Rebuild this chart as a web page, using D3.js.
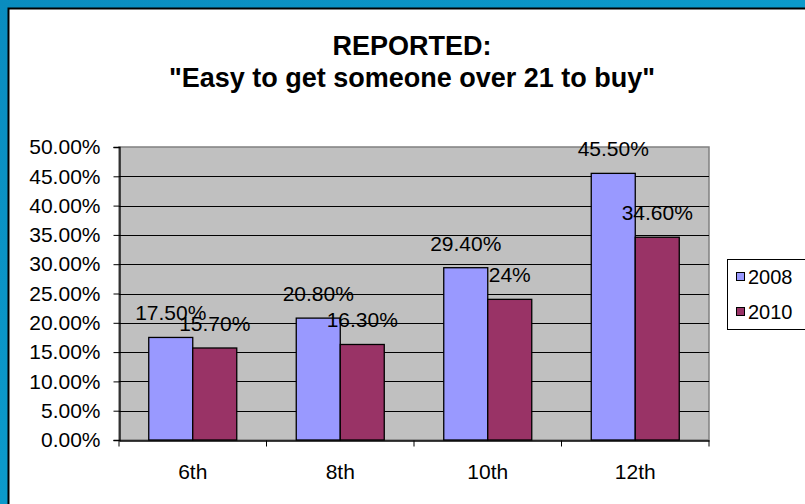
<!DOCTYPE html>
<html>
<head>
<meta charset="utf-8">
<script src="https://cdn.jsdelivr.net/npm/d3@7"></script>
<style>
  body { margin: 0; padding: 0; overflow: hidden; }
  svg { display: block; font-family: "Liberation Sans", Arial, sans-serif; }
</style>
</head>
<body>
<svg></svg>
<script>
let grades = ['6th', '8th', '10th', '12th']
let years = ['2008', '2010']
let values2008 = [17.5, 20.8, 29.4, 45.5]
let values2010 = [15.7, 16.3, 24, 34.6]
let labels2008 = ['17.50%', '20.80%', '29.40%', '45.50%']
let labels2010 = ['15.70%', '16.30%', '24%', '34.60%']
let yTicks = [0, 5, 10, 15, 20, 25, 30, 35, 40, 45, 50]
let colors = ['#9999ff', '#993366']

let width = 805
let height = 504

let plotLeft = 119
let plotRight = 709
let plotTop = 147
let plotBottom = 440

let svg = d3.select('svg')
    .attr('width', width)
    .attr('height', height)

let xScale
let yScale
let subScale

let drawFrame = () => {
    let grad = svg.append('defs')
        .append('linearGradient')
        .attr('id', 'bg')
        .attr('x1', '0').attr('y1', '0')
        .attr('x2', '1').attr('y2', '1')
    grad.append('stop').attr('offset', '0%').attr('stop-color', '#0a8cbf')
    grad.append('stop').attr('offset', '50%').attr('stop-color', '#0b9acb')
    grad.append('stop').attr('offset', '100%').attr('stop-color', '#0a86b8')

    svg.append('rect')
        .attr('width', width)
        .attr('height', height)
        .attr('fill', 'url(#bg)')

    svg.append('rect')
        .attr('x', 8.5)
        .attr('y', 8.5)
        .attr('width', width + 10)
        .attr('height', height + 10)
        .attr('fill', 'white')
        .attr('stroke', 'black')
        .attr('stroke-width', 2)
}

let generateScales = () => {
    xScale = d3.scaleBand()
        .domain(grades)
        .range([plotLeft, plotRight])
        .paddingInner(0)
        .paddingOuter(0)

    subScale = d3.scaleBand()
        .domain(years)
        .range([0, xScale.bandwidth()])
        .paddingInner(0)
        .paddingOuter(0.676)

    yScale = d3.scaleLinear()
        .domain([0, 50])
        .range([plotBottom, plotTop])
}

let drawPlotArea = () => {
    svg.append('rect')
        .attr('x', plotLeft)
        .attr('y', plotTop)
        .attr('width', plotRight - plotLeft)
        .attr('height', plotBottom - plotTop)
        .attr('fill', '#c0c0c0')
        .attr('stroke', '#808080')
        .attr('stroke-width', 1.5)

    svg.append('g')
        .selectAll('line')
        .data(yTicks.slice(1, -1))
        .enter()
        .append('line')
        .attr('x1', plotLeft)
        .attr('x2', plotRight)
        .attr('y1', (d) => Math.round(yScale(d)) + 0.5)
        .attr('y2', (d) => Math.round(yScale(d)) + 0.5)
        .attr('stroke', '#000')
        .attr('stroke-width', 1)
}

let drawBars = () => {
    let series = [values2008, values2010]
    let seriesLabels = [labels2008, labels2010]

    series.forEach((vals, s) => {
        svg.append('g')
            .selectAll('rect')
            .data(vals)
            .enter()
            .append('rect')
            .attr('x', (d, i) => xScale(grades[i]) + subScale(years[s]))
            .attr('y', (d) => yScale(d))
            .attr('width', subScale.bandwidth())
            .attr('height', (d) => plotBottom - yScale(d))
            .attr('fill', colors[s])
            .attr('stroke', 'black')
            .attr('stroke-width', 1.3)

        svg.append('g')
            .selectAll('text')
            .data(vals)
            .enter()
            .append('text')
            .attr('x', (d, i) => xScale(grades[i]) + subScale(years[s]) + subScale.bandwidth() / 2)
            .attr('y', (d) => yScale(d) - 17)
            .attr('text-anchor', 'middle')
            .attr('font-size', 21)
            .attr('fill', 'black')
            .text((d, i) => seriesLabels[s][i])
    })
}

let generateAxes = () => {
    let yAxis = d3.axisLeft(yScale)
        .tickValues(yTicks)
        .tickSize(6)
        .tickPadding(13)
        .tickFormat((d) => d3.format('.2f')(d) + '%')
    let yg = svg.append('g')
        .attr('id', 'y-axis')
        .attr('transform', 'translate(' + (plotLeft + 0.5) + ', 0)')
        .call(yAxis)
    yg.select('.domain').attr('stroke', 'black').attr('stroke-width', 1.3)
    yg.selectAll('text')
        .attr('font-size', 21)
        .attr('font-family', '"Liberation Sans", Arial, sans-serif')
        .attr('fill', 'black')

    let xAxis = d3.axisBottom(xScale)
        .tickSize(0)
        .tickPadding(24)
    let xg = svg.append('g')
        .attr('id', 'x-axis')
        .attr('transform', 'translate(0, ' + (plotBottom + 0.5) + ')')
        .call(xAxis)
    xg.select('.domain').attr('stroke', 'black').attr('stroke-width', 1.3)
    xg.selectAll('text')
        .attr('font-size', 21)
        .attr('font-family', '"Liberation Sans", Arial, sans-serif')
        .attr('fill', 'black')

    // tick marks between categories
    let bounds = grades.map((g) => xScale(g)).concat([plotRight])
    xg.append('g')
        .selectAll('line')
        .data(bounds)
        .enter()
        .append('line')
        .attr('x1', (d) => d)
        .attr('x2', (d) => d)
        .attr('y1', 0)
        .attr('y2', 6)
        .attr('stroke', 'black')
}

let drawTitle = () => {
    svg.append('text')
        .attr('x', 412)
        .attr('y', 55)
        .attr('text-anchor', 'middle')
        .attr('font-size', 27)
        .attr('font-weight', 'bold')
        .text('REPORTED:')
    svg.append('text')
        .attr('x', 412)
        .attr('y', 87)
        .attr('text-anchor', 'middle')
        .attr('font-size', 27)
        .attr('font-weight', 'bold')
        .text('"Easy to get someone over 21 to buy"')
}

let drawLegend = () => {
    let lg = svg.append('g').attr('transform', 'translate(727, 259)')
    lg.append('rect')
        .attr('x', 0.5)
        .attr('y', 0.5)
        .attr('width', 90)
        .attr('height', 70)
        .attr('fill', 'white')
        .attr('stroke', 'black')

    let items = lg.selectAll('g.item')
        .data(years)
        .enter()
        .append('g')
        .attr('class', 'item')
        .attr('transform', (d, i) => 'translate(0, ' + (18 + i * 35) + ')')
    items.append('rect')
        .attr('x', 9.5)
        .attr('y', -4.5)
        .attr('width', 8)
        .attr('height', 8)
        .attr('fill', (d, i) => colors[i])
        .attr('stroke', 'black')
    items.append('text')
        .attr('x', 21)
        .attr('y', 7)
        .attr('font-size', 20)
        .text((d) => d)
}

drawFrame()
generateScales()
drawPlotArea()
drawBars()
generateAxes()
drawTitle()
drawLegend()
</script>
</body>
</html>
